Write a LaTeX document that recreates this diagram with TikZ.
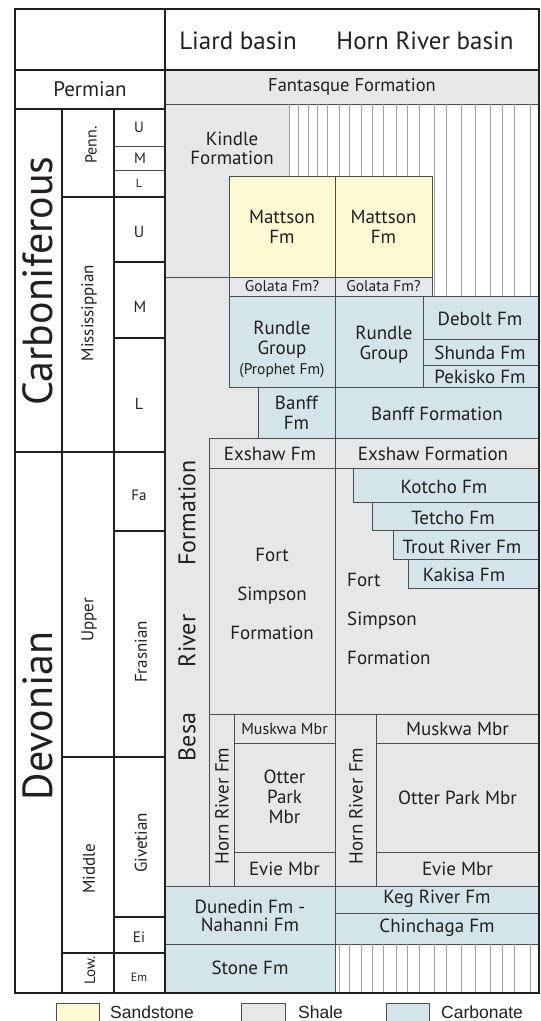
\documentclass[tikz,border=0pt]{standalone}
\usepackage{fontspec}
\setmainfont{PT Sans}
\newfontfamily\legendfont{Liberation Sans}
\usepackage{tikz}
\usetikzlibrary{calc}
\definecolor{shalegray}{HTML}{E6E7E8}
\definecolor{sandyellow}{HTML}{FFF9D4}
\definecolor{carbblue}{HTML}{D3E4EA}
\definecolor{edgegray}{HTML}{4D4D4F}
\definecolor{hatchgray}{HTML}{9D9FA2}
\definecolor{inkblack}{HTML}{231F20}
\tikzset{
  unit/.style={draw=edgegray, line width=0.9pt},
  shale/.style={unit, fill=shalegray},
  sand/.style={unit, fill=sandyellow},
  carb/.style={unit, fill=carbblue},
  hatchline/.style={draw=hatchgray, line width=0.7pt},
  frame/.style={draw=inkblack, line width=2pt},
  rule/.style={draw=inkblack, line width=1.1pt},
  thinrule/.style={draw=edgegray, line width=0.8pt},
  lbl/.style={text=inkblack, inner sep=0pt, align=center},
}
\newcommand{\fsz}[2]{\fontsize{#1}{#2}\selectfont}

\begin{document}
\begin{tikzpicture}[x=1pt,y=-1pt]
  \useasboundingbox (0,0) rectangle (541,1021);
  \clip (0,0) rectangle (541,1021);
  % Liard basin side
  \draw[shale] (165,70) rectangle (539,104);
  \draw[shale] (165,104) -- (289,104) -- (289,176) -- (229,176) -- (229,277) -- (165,277) -- cycle;
  \begin{scope}
    \clip (289,104) -- (539,104) -- (539,296) -- (432,296) -- (432,176) -- (289,176) -- cycle;
    \foreach \x in {289,298,308,317,327,339,349,361,372,383,396,407,419,434,446,461,475,490,502,514,530}
      \draw[hatchline] (\x,104) -- (\x,296);
  \end{scope}
  \draw[shale] (165,277) rectangle (335,886);
  \draw[sand] (229,176) rectangle (335,277);
  \draw[shale] (229,277) rectangle (335,296);
  \draw[carb] (229,296) rectangle (335,387);
  \draw[carb] (258,387) rectangle (335,438);
  \draw[shale] (209,438) rectangle (335,468);
  \draw[shale] (209,468) rectangle (335,714);
  \draw[shale] (209,714) rectangle (234,886);
  \foreach \ya/\yb in {714/743, 743/852, 852/886}
    \draw[shale] (234,\ya) rectangle (335,\yb);
  \draw[carb] (165,886) rectangle (335,944);
  \draw[carb] (165,944) rectangle (335,993);
  % Horn River basin side
  \draw[sand] (335,176) rectangle (432,277);
  \draw[shale] (335,277) rectangle (432,296);
  \draw[carb] (335,296) rectangle (423,387);
  \foreach \ya/\yb in {296/339, 339/365, 365/387}
    \draw[carb] (423,\ya) rectangle (539,\yb);
  \draw[carb] (335,387) rectangle (539,438);
  \draw[shale] (335,438) rectangle (539,468);
  \draw[shale] (335,468) rectangle (539,714);
  \foreach \xa/\ya/\yb in {353/468/502, 372/502/530, 393/530/559, 408/559/588}
    \draw[carb] (\xa,\ya) rectangle (539,\yb);
  \draw[shale] (335,714) rectangle (376,886);
  \foreach \ya/\yb in {714/743, 743/852, 852/886}
    \draw[shale] (376,\ya) rectangle (539,\yb);
  \draw[carb] (335,886) rectangle (539,913);
  \draw[carb] (335,913) rectangle (539,944);
  \begin{scope}
    \clip (335,944) rectangle (539,993);
    \foreach \x in {339,349,361,372,383,396,407,419,434,446,461,475,490,502,514,530}
      \draw[hatchline] (\x,944) -- (\x,993);
  \end{scope}
  % time scale rules
  \draw[rule] (62,109) -- (62,993);
  \draw[rule] (114,109) -- (114,993);
  \draw[rule] (15,452) -- (165,452);
  \foreach \x/\y in {62/197, 114/262, 114/338, 114/531, 62/757, 114/917, 62/953}
    \draw[rule] (\x,\y) -- (165,\y);
  \draw[thinrule] (114,146) -- (165,146);
  \draw[thinrule] (114,170) -- (165,170);
  \draw[frame] (15,70) -- (539,70);
  \draw[frame] (15,109) -- (165,109);
  \draw[frame] (165,9) -- (165,993);
  \draw[frame] (15,9) rectangle (539,993);

  % headings
  \node[lbl, font=\fsz{25}{28}] (liard) at (238,41) {Liard basin};
  \node[lbl, font=\fsz{25}{28}] (hornriver) at (425,41) {Horn River basin};
  \node[lbl, font=\fsz{21}{24}] (permian) at (90,89) {Permian};
  \node[lbl, font=\fsz{18.5}{20}] (fantasque) at (352,87) {Fantasque Formation};

  % periods, epochs, stages
  \node[lbl, font=\fsz{42}{44}, rotate=90] (carbon) at (38,281) {Carboniferous};
  \node[lbl, font=\fsz{42}{44}, rotate=90] (devon) at (38,716) {Devonian};
  \node[lbl, font=\fsz{16}{18}, rotate=90] (penn) at (91,145) {Penn.};
  \node[lbl, font=\fsz{17}{19}, rotate=90] (missi) at (89,313) {Mississippian};
  \node[lbl, font=\fsz{17}{19}, rotate=90] (upper) at (89,620) {Upper};
  \node[lbl, font=\fsz{17}{19}, rotate=90] (middle) at (89,869) {Middle};
  \node[lbl, font=\fsz{15}{17}, rotate=90] (lower) at (90,970) {Low.};
  \node[lbl, font=\fsz{17}{19}, rotate=90] (frasn) at (141,652) {Frasnian};
  \node[lbl, font=\fsz{17}{19}, rotate=90] (givet) at (141,843) {Givetian};
  \node[lbl, font=\fsz{15}{17}] (pennU) at (139,127) {U};
  \node[lbl, font=\fsz{15}{17}] (pennM) at (140,158) {M};
  \node[lbl, font=\fsz{12}{14}] (pennL) at (139,183) {L};
  \node[lbl, font=\fsz{16}{18}] (missU) at (139,232) {U};
  \node[lbl, font=\fsz{16}{18}] (missM) at (140,307) {M};
  \node[lbl, font=\fsz{16}{18}] (missL) at (139,404) {L};
  \node[lbl, font=\fsz{15}{17}] (fa) at (139,495) {Fa};
  \node[lbl, font=\fsz{15}{17}] (ei) at (139,937) {Ei};
  \node[lbl, font=\fsz{12}{14}] (em) at (139,977) {Em};

  % Liard basin units
  \node[lbl, font=\fsz{19}{19}] (kindle) at (232,148) {Kindle\\Formation};
  \node[lbl, font=\fsz{19}{20}] (mattsonL) at (282,227) {Mattson\\Fm};
  \node[lbl, font=\fsz{15.5}{17}] (golataL) at (282,286.5) {Golata Fm?};
  \node[lbl, font=\fsz{19}{20}] (rundleL) at (282,349) {Rundle\\Group\\{\fsz{15.5}{20}(Prophet Fm)}};
  \node[lbl, font=\fsz{19}{20}] (banffL) at (296.5,413) {Banff\\Fm};
  \node[lbl, font=\fsz{19}{20}] (exshawL) at (270,454) {Exshaw Fm};
  \node[lbl, font=\fsz{19}{39}] (simpsonL) at (272,594) {Fort\\Simpson\\Formation};
  \node[lbl, font=\fsz{24}{26}, rotate=90] (besaA) at (187,737) {Besa};
  \node[lbl, font=\fsz{24}{26}, rotate=90] (besaB) at (187,641) {River};
  \node[lbl, font=\fsz{24}{26}, rotate=90] (besaC) at (187,513) {Formation};
  \node[lbl, font=\fsz{19}{20}, rotate=90] (hornL) at (222,806) {Horn River Fm};
  \node[lbl, font=\fsz{16}{18}] (muskwaL) at (284.5,729) {Muskwa Mbr};
  \node[lbl, font=\fsz{19}{20}] (otterL) at (284.5,797) {Otter\\Park\\Mbr};
  \node[lbl, font=\fsz{19}{20}] (evieL) at (284.5,869) {Evie Mbr};
  \node[lbl, font=\fsz{19}{18}] (dunedin) at (250,916) {Dunedin Fm -\\Nahanni Fm};
  \node[lbl, font=\fsz{19}{20}] (stone) at (250,968) {Stone Fm};

  % Horn River basin units
  \node[lbl, font=\fsz{19}{20}] (mattsonR) at (383.5,227) {Mattson\\Fm};
  \node[lbl, font=\fsz{15.5}{17}] (golataR) at (383.5,286.5) {Golata Fm?};
  \node[lbl, font=\fsz{19}{20}] (rundleR) at (384,345) {Rundle\\Group};
  \node[lbl, font=\fsz{19}{20}] (debolt) at (480,319) {Debolt Fm};
  \node[lbl, font=\fsz{19}{20}] (shunda) at (480,353) {Shunda Fm};
  \node[lbl, font=\fsz{19}{20}] (pekisko) at (480,377) {Pekisko Fm};
  \node[lbl, font=\fsz{19}{20}] (banffR) at (437,414) {Banff Formation};
  \node[lbl, font=\fsz{19}{20}] (exshawR) at (433,454) {Exshaw Formation};
  \node[lbl, font=\fsz{19}{20}] (kotcho) at (444,487) {Kotcho Fm};
  \node[lbl, font=\fsz{19}{20}] (tetcho) at (453,518) {Tetcho Fm};
  \node[lbl, font=\fsz{19}{20}] (trout) at (462,547) {Trout River Fm};
  \node[lbl, font=\fsz{19}{20}] (kakisa) at (464,575) {Kakisa Fm};
  \node[lbl, font=\fsz{19}{39}, align=left, anchor=west] (simpsonR) at (347,619) {Fort\\Simpson\\Formation};
  \node[lbl, font=\fsz{19}{20}, rotate=90] (hornR) at (356,806) {Horn River Fm};
  \node[lbl, font=\fsz{19}{20}] (muskwaR) at (457.5,729) {Muskwa Mbr};
  \node[lbl, font=\fsz{19}{20}] (otterR) at (457.5,798) {Otter Park Mbr};
  \node[lbl, font=\fsz{19}{20}] (evieR) at (457.5,869) {Evie Mbr};
  \node[lbl, font=\fsz{19}{20}] (keg) at (437,899) {Keg River Fm};
  \node[lbl, font=\fsz{19}{20}] (chinchaga) at (437,928) {Chinchaga Fm};

  % legend
  \draw[sand] (56,1003) rectangle (99,1035);
  \draw[shale] (241,1003) rectangle (285,1035);
  \draw[carb] (386,1003) rectangle (429,1035);
  \node[lbl, font=\legendfont\fsz{17.5}{20}, anchor=base west] (sandkey) at (110,1018) {Sandstone};
  \node[lbl, font=\legendfont\fsz{17.5}{20}, anchor=base west] (shalekey) at (298,1018) {Shale};
  \node[lbl, font=\legendfont\fsz{17.5}{20}, anchor=base west] (carbkey) at (441,1018) {Carbonate};
\end{tikzpicture}
\end{document}
